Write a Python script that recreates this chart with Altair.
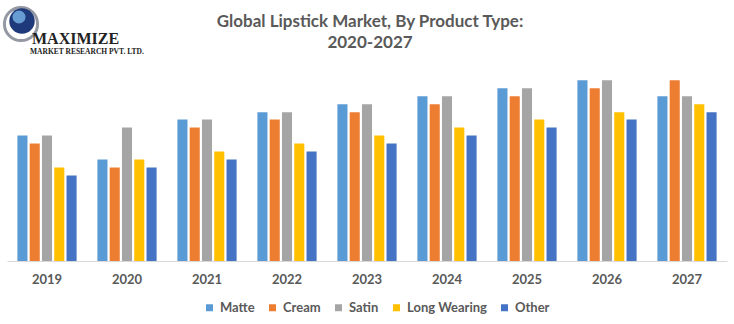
import altair as alt
import pandas as pd

years = ["2019", "2020", "2021", "2022", "2023", "2024", "2025", "2026", "2027"]
products = ["Matte", "Cream", "Satin", "Long Wearing", "Other"]
colors = ["#5B9BD5", "#ED7D31", "#A5A5A5", "#FFC000", "#4472C4"]

matte = [15.7, 12.7, 17.7, 18.6, 19.6, 20.6, 21.6, 22.6, 20.6]
cream = [14.7, 11.7, 16.7, 17.7, 18.6, 19.6, 20.6, 21.6, 22.6]
satin = [15.7, 16.7, 17.7, 18.6, 19.6, 20.6, 21.6, 22.6, 20.6]
long_wearing = [11.7, 12.7, 13.7, 14.7, 15.7, 16.7, 17.7, 18.6, 19.6]
other = [10.7, 11.7, 12.7, 13.7, 14.7, 15.7, 16.7, 17.7, 18.6]

title_lines = ["Global Lipstick Market, By Product Type:", "2020-2027"]
logo_lines = ["MAXIMIZE", "MARKET RESEARCH PVT. LTD."]

series = [matte, cream, satin, long_wearing, other]
rows = []
for p, vals in zip(products, series):
    for y, v in zip(years, vals):
        rows.append({"Year": y, "Product": p, "Value": v})
df = pd.DataFrame(rows)

FONT = "Lato"
GRAY = "#595959"

bars = alt.Chart(df).mark_bar().encode(
    x=alt.X("Year:N", sort=years,
            scale=alt.Scale(paddingInner=0.26, paddingOuter=0.13),
            axis=alt.Axis(title=None, labelAngle=0, ticks=False, domainColor="#D9D9D9",
                          labelFontSize=13, labelFont=FONT, labelFontWeight="bold",
                          labelColor=GRAY, labelPadding=12)),
    xOffset=alt.XOffset("Product:N", sort=products,
                        scale=alt.Scale(paddingInner=0.18, paddingOuter=0)),
    y=alt.Y("Value:Q", scale=alt.Scale(domain=[0, 23.875], nice=False, zero=True),
            axis=None),
    color=alt.Color("Product:N", sort=products,
                    scale=alt.Scale(domain=products, range=colors),
                    legend=alt.Legend(title=None, orient="none", legendX=196, legendY=231,
                                      direction="horizontal", symbolType="square",
                                      symbolSize=49, symbolStrokeWidth=0,
                                      labelFont=FONT, labelFontSize=13, labelFontWeight="bold",
                                      labelColor=GRAY, columnPadding=11, labelOffset=4)),
)

one = pd.DataFrame({"a": [1]})
title1 = alt.Chart(pd.DataFrame({"t": [title_lines[0]]})).mark_text(
    font=FONT, fontSize=17, fontWeight="bold", color=GRAY,
    align="center", baseline="alphabetic", clip=False
).encode(text="t:N", x=alt.value(363), y=alt.value(-43))
title2 = alt.Chart(pd.DataFrame({"t": [title_lines[1]]})).mark_text(
    font=FONT, fontSize=17, fontWeight="bold", color=GRAY,
    align="center", baseline="alphabetic", clip=False
).encode(text="t:N", x=alt.value(363), y=alt.value(-22))

swoosh = alt.Chart(one).mark_point(
    filled=False, shape="circle", size=1100, color="#7A7F8C", strokeWidth=3, opacity=0.8, clip=False
).encode(x=alt.value(14), y=alt.value(-46))
globe = alt.Chart(one).mark_point(
    filled=True, shape="circle", size=650, color="#1F3A7A", opacity=1, clip=False
).encode(x=alt.value(15), y=alt.value(-49))
globe2 = alt.Chart(one).mark_point(
    filled=True, shape="circle", size=170, color="#6FA8DC", opacity=0.9, clip=False
).encode(x=alt.value(12), y=alt.value(-53))
logo1 = alt.Chart(pd.DataFrame({"t": [logo_lines[0]]})).mark_text(
    font="Liberation Serif", fontSize=16, fontWeight="bold", color="#222222",
    align="left", baseline="alphabetic", clip=False
).encode(text="t:N", x=alt.value(25), y=alt.value(-26))
logo2 = alt.Chart(pd.DataFrame({"t": [logo_lines[1]]})).mark_text(
    font="Liberation Serif", fontSize=7.5, fontWeight="bold", color="#222222",
    align="left", baseline="alphabetic", clip=False
).encode(text="t:N", x=alt.value(23), y=alt.value(-16))

chart = alt.layer(bars, swoosh, globe, globe2, logo1, logo2, title1, title2).properties(
    width=720, height=191,
    background="white",
    padding={"left": 7, "top": 70, "right": 7, "bottom": 63},
    autosize=alt.AutoSizeParams(type="none"),
).configure_view(strokeWidth=0)

chart.save("out.html", embed_options={"renderer": "svg", "actions": False})
